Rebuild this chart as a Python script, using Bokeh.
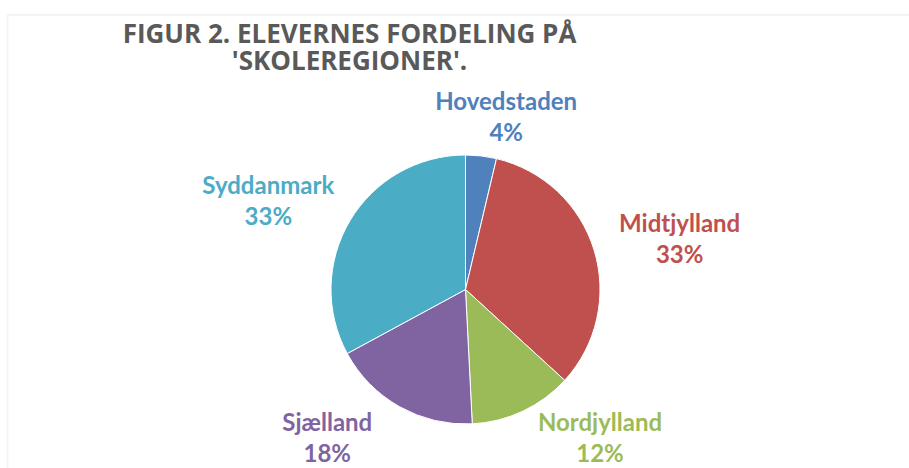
import math
from bokeh.plotting import figure
from bokeh.models import Range1d, ColumnDataSource, BoxAnnotation
from bokeh.core.properties import value
from bokeh.embed import file_html
from bokeh.resources import INLINE

# ---- data ----
regions = ["Hovedstaden", "Midtjylland", "Nordjylland", "Sjælland", "Syddanmark"]
shares = [3.7, 33.1, 12.4, 17.9, 32.9]
colors = ["#4F81BD", "#C0504D", "#9BBB59", "#8064A2", "#4BACC6"]
title_lines = ["FIGUR 2. ELEVERNES FORDELING PÅ", "'SKOLEREGIONER'."]

W, H = 909, 468
CX, CY, R = 465, 179, 134.5
LABEL_FONT = "Lato, 'Open Sans', sans-serif"
TITLE_FONT = "'Open Sans', 'Noto Sans', sans-serif"

total = sum(shares)
starts, ends = [], []
cum = 0.0
for s in shares:
    a0 = cum / total
    cum += s
    a1 = cum / total
    starts.append(math.pi / 2 - 2 * math.pi * a1)
    ends.append(math.pi / 2 - 2 * math.pi * a0)

mids = [0.5 * (a + b) for a, b in zip(starts, ends)]
FY_MIN = -1.097
lx, ly_name, ly_pct, pct_txt = [], [], [], []
for m, s in zip(mids, shares):
    theta = math.pi / 2 - m  # clockwise angle from top
    sx, cy = math.sin(theta), math.cos(theta)
    fx = 1.3 * sx + 0.35 * math.tanh(4 * sx)
    fy = 1.3 * cy
    if fy < FY_MIN:  # keep label inside the chart; slide it outward instead
        fx += math.copysign(1.5 * (FY_MIN - fy), sx)
        fy = FY_MIN
    x = CX + R * fx
    y = CY + R * fy
    lx.append(x)
    ly_name.append(y + 15.5)
    ly_pct.append(y - 15.5)
    pct_txt.append(f"{round(s / total * 100)}%")

src = ColumnDataSource(dict(region=regions, share=shares, color=colors,
                            start=starts, end=ends, lx=lx, lyn=ly_name,
                            lyp=ly_pct, pct=pct_txt))

p = figure(width=W, height=H, x_range=Range1d(0, W), y_range=Range1d(0, H),
           output_backend="svg", toolbar_location=None, min_border=0)
p.axis.visible = False
p.grid.visible = False
p.outline_line_color = None
p.background_fill_color = "white"
p.border_fill_color = "white"

p.add_layout(BoxAnnotation(left=7, right=W + 20, bottom=-20, top=H - 14.5,
                           fill_alpha=0, line_color="#D9D9D9", line_width=2))

p.wedge(x=CX, y=CY, radius=R, start_angle="start", end_angle="end",
        direction="anticlock", fill_color="color", line_color="white",
        line_width=1, source=src)

p.text(x="lx", y="lyn", text="region", text_color="color", text_align="center",
       text_baseline="middle", text_font=value(LABEL_FONT), text_font_size="24px",
       text_font_style="bold", source=src)
p.text(x="lx", y="lyp", text="pct", text_color="color", text_align="center",
       text_baseline="middle", text_font=value(LABEL_FONT), text_font_size="24px",
       text_font_style="bold", source=src)

p.text(x=[349, 349], y=[H - 32, H - 59], text=title_lines, text_color="#595959",
       text_align="center", text_baseline="middle", text_font=value(TITLE_FONT),
       text_font_size="26px", text_font_style="bold")

open("out.html", "w").write(file_html(p, INLINE))
